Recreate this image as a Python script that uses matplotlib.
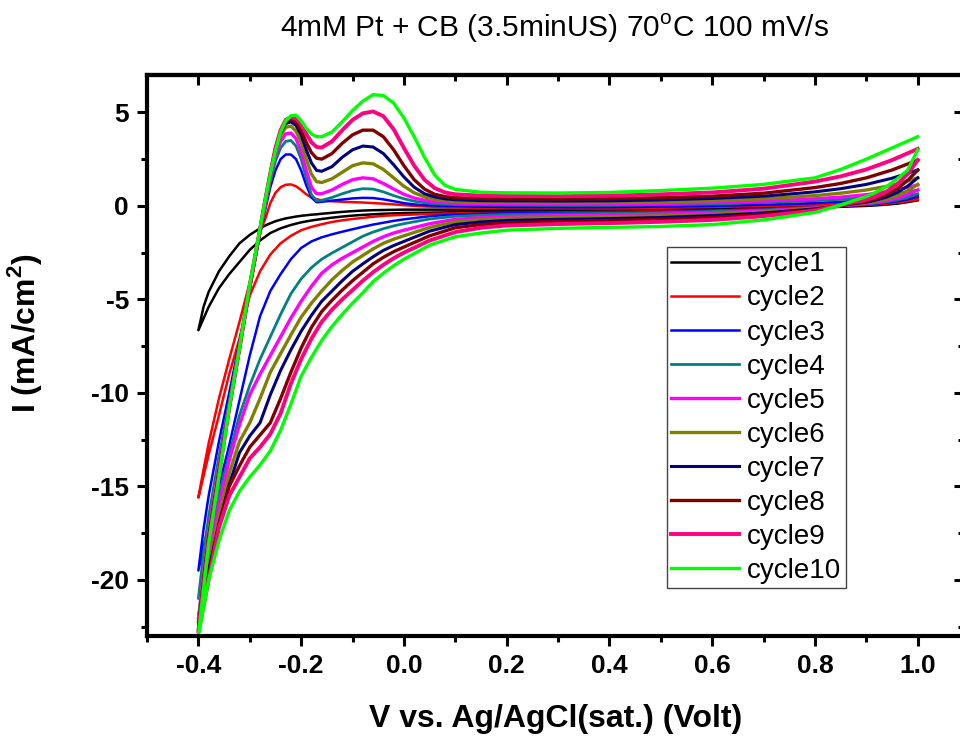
import matplotlib
matplotlib.use('Agg')
import matplotlib.pyplot as plt
from matplotlib.ticker import MultipleLocator

plt.rcParams['font.family'] = ['Liberation Sans', 'DejaVu Sans']
plt.rcParams['mathtext.fontset'] = 'custom'
plt.rcParams['mathtext.rm'] = 'Liberation Sans'
plt.rcParams['mathtext.bf'] = 'Liberation Sans:bold'

# potential grids (V): upper = anodic sweep (-0.4 -> 1.0), lower = cathodic sweep (1.0 -> -0.4)
upper_v = [-0.40, -0.39, -0.38, -0.36, -0.34, -0.32, -0.30, -0.28, -0.27, -0.26, -0.25, -0.24, -0.23,
           -0.22, -0.21, -0.20, -0.19, -0.18, -0.17, -0.16, -0.14, -0.12, -0.10, -0.08, -0.06, -0.04,
           -0.02, 0.00, 0.02, 0.04, 0.06, 0.08, 0.10, 0.15, 0.20, 0.30, 0.40, 0.50, 0.60, 0.70, 0.80,
           0.85, 0.90, 0.95, 1.00]
lower_v = [1.00, 0.98, 0.96, 0.94, 0.92, 0.90, 0.85, 0.80, 0.70, 0.60, 0.50, 0.40, 0.30, 0.20, 0.15,
           0.10, 0.05, 0.00, -0.02, -0.04, -0.06, -0.08, -0.10, -0.12, -0.14, -0.16, -0.18, -0.20,
           -0.22, -0.24, -0.26, -0.28, -0.30, -0.32, -0.34, -0.36, -0.38, -0.40]

# current density (mA/cm2)
upper_i = {
    'cycle1': [-6.65, -5.4, -4.6, -3.5, -2.7, -2.0, -1.55, -1.2, -1.05, -0.93, -0.82, -0.74, -0.67,
               -0.62, -0.57, -0.53, -0.5, -0.47, -0.45, -0.42, -0.37, -0.32, -0.28, -0.25, -0.23, -0.22,
               -0.21, -0.2, -0.2, -0.2, -0.2, -0.2, -0.2, -0.2, -0.2, -0.2, -0.19, -0.16, -0.11, -0.06,
               0.0, 0.05, 0.12, 0.22, 0.35],
    'cycle2': [-15.6, -14.1, -12.7, -10.3, -8.2, -6.2, -4.1, -1.4, -0.7, 0.15, 0.7, 1.0, 1.13,
               1.15, 1.05, 0.85, 0.62, 0.45, 0.36, 0.3, 0.25, 0.22, 0.2, 0.18, 0.15, 0.12,
               0.08, 0.04, 0.0, -0.03, -0.05, -0.07, -0.08, -0.1, -0.12, -0.13, -0.14, -0.1, -0.06, 0.0,
               0.05, 0.1, 0.18, 0.3, 0.45],
    'cycle3': [-19.5, -17.3, -15.5, -12.6, -10.0, -7.3, -4.4, -1.5, -0.2, 1.0, 1.9, 2.5, 2.75,
               2.75, 2.5, 1.9, 1.1, 0.45, 0.2, 0.22, 0.28, 0.34, 0.4, 0.43, 0.42, 0.35,
               0.25, 0.15, 0.08, 0.04, 0.02, 0.0, -0.01, -0.04, -0.06, -0.07, -0.07, -0.04, 0.0, 0.06,
               0.15, 0.22, 0.3, 0.45, 0.62],
    'cycle4': [-21.0, -18.6, -16.6, -13.4, -10.5, -7.5, -4.4, -1.4, 0.0, 1.3, 2.4, 3.1, 3.45,
               3.5, 3.2, 2.5, 1.5, 0.6, 0.28, 0.3, 0.45, 0.65, 0.82, 0.92, 0.9, 0.75,
               0.55, 0.38, 0.25, 0.17, 0.12, 0.09, 0.07, 0.05, 0.04, 0.03, 0.03, 0.06, 0.1, 0.18,
               0.28, 0.35, 0.45, 0.62, 0.85],
    'cycle5': [-22.1, -19.6, -17.3, -13.9, -10.7, -7.6, -4.4, -1.35, 0.1, 1.5, 2.7, 3.45, 3.85,
               3.9, 3.6, 2.9, 1.9, 1.0, 0.65, 0.65, 0.85, 1.15, 1.4, 1.5, 1.45, 1.2,
               0.9, 0.62, 0.42, 0.3, 0.22, 0.18, 0.15, 0.12, 0.11, 0.1, 0.1, 0.13, 0.18, 0.26,
               0.38, 0.47, 0.6, 0.8, 1.12],
    'cycle6': [-22.3, -19.8, -17.5, -14.1, -10.8, -7.6, -4.35, -1.3, 0.2, 1.6, 2.9, 3.75, 4.2,
               4.27, 4.0, 3.4, 2.5, 1.7, 1.3, 1.25, 1.45, 1.8, 2.15, 2.3, 2.25, 1.95,
               1.5, 1.05, 0.7, 0.48, 0.35, 0.28, 0.24, 0.2, 0.19, 0.18, 0.18, 0.22, 0.28, 0.38,
               0.55, 0.68, 0.85, 1.1, 1.5],
    'cycle7': [-22.5, -20.0, -17.7, -14.2, -10.8, -7.6, -4.3, -1.25, 0.25, 1.65, 3.0, 3.9, 4.4,
               4.5, 4.3, 3.8, 3.0, 2.3, 1.9, 1.85, 2.1, 2.6, 3.0, 3.2, 3.15, 2.8,
               2.2, 1.55, 1.0, 0.65, 0.48, 0.38, 0.33, 0.28, 0.27, 0.26, 0.27, 0.32, 0.4, 0.52,
               0.75, 0.92, 1.15, 1.48, 1.92],
    'cycle8': [-22.7, -20.2, -17.9, -14.3, -10.8, -7.6, -4.3, -1.25, 0.3, 1.7, 3.05, 4.0, 4.5,
               4.63, 4.5, 4.05, 3.4, 2.85, 2.55, 2.5, 2.8, 3.35, 3.8, 4.05, 4.05, 3.7,
               3.0, 2.15, 1.4, 0.9, 0.62, 0.5, 0.44, 0.39, 0.38, 0.37, 0.39, 0.44, 0.52, 0.68,
               0.98, 1.2, 1.5, 1.92, 2.45],
    'cycle9': [-22.8, -20.3, -18.0, -14.4, -10.8, -7.6, -4.25, -1.25, 0.3, 1.75, 3.1, 4.05, 4.6,
               4.75, 4.68, 4.35, 3.85, 3.4, 3.15, 3.12, 3.45, 4.05, 4.6, 4.95, 5.05, 4.8,
               4.1, 3.1, 2.15, 1.4, 0.95, 0.72, 0.62, 0.55, 0.53, 0.52, 0.55, 0.62, 0.72, 0.92,
               1.3, 1.58, 1.95, 2.45, 3.05],
    'cycle10': [-23.0, -20.5, -18.1, -14.5, -10.8, -7.6, -4.2, -1.2, 0.3, 1.7, 2.95, 3.95, 4.55,
                4.82, 4.85, 4.55, 4.15, 3.85, 3.7, 3.7, 3.95, 4.5, 5.1, 5.6, 5.95, 5.9,
                5.5, 4.7, 3.7, 2.6, 1.65, 1.1, 0.88, 0.73, 0.7, 0.69, 0.72, 0.82, 0.95, 1.15,
                1.5, 1.95, 2.5, 3.1, 3.7],
}
lower_i = {
    'cycle1': [0.3, 0.2, 0.12, 0.07, 0.03, 0.0, -0.05, -0.1, -0.15, -0.2, -0.25, -0.28, -0.3, -0.32,
               -0.33, -0.34, -0.36, -0.38, -0.4, -0.42, -0.45, -0.48, -0.52, -0.57, -0.63, -0.7, -0.78,
               -0.88, -1.02, -1.2, -1.45, -1.85, -2.35, -3.0, -3.65, -4.4, -5.4, -6.65],
    'cycle2': [0.35, 0.25, 0.18, 0.12, 0.08, 0.05, 0.0, -0.08, -0.18, -0.25, -0.3, -0.32, -0.35, -0.37,
               -0.38, -0.4, -0.43, -0.48, -0.5, -0.53, -0.58, -0.64, -0.7, -0.77, -0.86, -0.98, -1.12,
               -1.3, -1.6, -2.0, -2.6, -3.5, -4.8, -7.1, -9.0, -11.2, -13.3, -15.6],
    'cycle3': [0.5, 0.35, 0.25, 0.18, 0.12, 0.08, 0.0, -0.1, -0.2, -0.28, -0.33, -0.36, -0.38, -0.4,
               -0.42, -0.46, -0.55, -0.72, -0.8, -0.9, -1.0, -1.12, -1.25, -1.38, -1.52, -1.68, -1.9,
               -2.25, -2.85, -3.65, -4.55, -5.9, -8.0, -10.4, -12.8, -15.0, -17.0, -19.5],
    'cycle4': [0.65, 0.45, 0.32, 0.22, 0.15, 0.1, 0.02, -0.1, -0.22, -0.3, -0.36, -0.4, -0.43, -0.46,
               -0.5, -0.56, -0.7, -0.95, -1.07, -1.22, -1.4, -1.62, -1.92, -2.22, -2.52, -2.85, -3.3,
               -3.9, -4.7, -5.8, -7.0, -8.2, -9.6, -11.2, -13.3, -15.5, -18.0, -21.0],
    'cycle5': [0.85, 0.6, 0.42, 0.3, 0.2, 0.13, 0.02, -0.12, -0.27, -0.37, -0.44, -0.49, -0.52, -0.57,
               -0.63, -0.72, -0.95, -1.3, -1.45, -1.65, -1.9, -2.2, -2.5, -2.8, -3.15, -3.6, -4.3,
               -5.1, -6.0, -7.0, -8.0, -9.0, -10.1, -11.7, -13.6, -16.0, -18.8, -22.1],
    'cycle6': [1.15, 0.8, 0.55, 0.38, 0.26, 0.17, 0.02, -0.14, -0.33, -0.45, -0.53, -0.58, -0.62, -0.67,
               -0.74, -0.85, -1.15, -1.6, -1.78, -2.0, -2.3, -2.65, -3.0, -3.45, -3.95, -4.55, -5.2,
               -5.95, -6.9, -7.9, -8.9, -10.3, -11.6, -12.6, -14.3, -16.6, -19.2, -22.3],
    'cycle7': [1.5, 1.05, 0.72, 0.48, 0.32, 0.2, 0.02, -0.16, -0.38, -0.52, -0.62, -0.68, -0.72, -0.78,
               -0.86, -1.0, -1.35, -1.9, -2.12, -2.38, -2.72, -3.1, -3.5, -4.0, -4.55, -5.1, -5.85,
               -6.7, -7.7, -8.8, -10.1, -11.6, -12.3, -13.2, -14.9, -17.0, -19.5, -22.5],
    'cycle8': [1.92, 1.35, 0.92, 0.62, 0.4, 0.25, 0.02, -0.2, -0.45, -0.62, -0.72, -0.78, -0.83, -0.9,
               -1.0, -1.17, -1.6, -2.2, -2.45, -2.75, -3.1, -3.55, -4.0, -4.5, -5.05, -5.65, -6.5,
               -7.6, -8.9, -10.3, -11.6, -12.25, -12.9, -13.9, -15.0, -17.1, -19.7, -22.7],
    'cycle9': [2.45, 1.7, 1.15, 0.78, 0.52, 0.33, 0.05, -0.25, -0.55, -0.75, -0.85, -0.92, -0.97, -1.05,
               -1.17, -1.4, -1.85, -2.5, -2.8, -3.15, -3.55, -4.0, -4.5, -5.0, -5.55, -6.2, -7.1,
               -8.2, -9.5, -11.1, -12.2, -12.9, -13.5, -14.5, -15.5, -17.2, -20.0, -22.8],
    'cycle10': [3.0, 1.9, 1.45, 1.05, 0.75, 0.5, 0.05, -0.35, -0.75, -1.0, -1.1, -1.15, -1.2, -1.3,
                -1.45, -1.65, -2.1, -2.85, -3.2, -3.6, -4.05, -4.65, -5.2, -5.8, -6.45, -7.2, -8.1,
                -9.1, -10.6, -12.0, -13.1, -13.85, -14.5, -15.25, -16.3, -17.9, -20.0, -23.0],
}

cycle_names = ['cycle1', 'cycle2', 'cycle3', 'cycle4', 'cycle5',
               'cycle6', 'cycle7', 'cycle8', 'cycle9', 'cycle10']
colors = ['#000000', '#ff0000', '#0000ff', '#008080', '#ff00ff',
          '#808000', '#000080', '#800000', '#ff0080', '#00ff00']
widths = [1.8, 1.8, 1.8, 2.0, 2.4, 2.4, 2.2, 2.4, 2.8, 2.4]

fig = plt.figure(figsize=(9.6, 7.38), dpi=100)
ax = fig.add_axes([147 / 960, 102 / 738, 817 / 960, 561 / 738])

for name, c, lw in zip(cycle_names, colors, widths):
    v = lower_v + upper_v
    i = lower_i[name] + upper_i[name]
    ax.plot(v, i, color=c, lw=lw, label=name)

ax.set_xlim(-0.5, 1.09)
ax.set_ylim(-23, 7)
ax.xaxis.set_minor_locator(MultipleLocator(0.1))
ax.yaxis.set_minor_locator(MultipleLocator(2.5))
ax.set_xticks([-0.4, -0.2, 0.0, 0.2, 0.4, 0.6, 0.8, 1.0])
ax.set_xticklabels(['-0.4', '-0.2', '0.0', '0.2', '0.4', '0.6', '0.8', '1.0'])
ax.set_yticks([5, 0, -5, -10, -15, -20])
ax.set_yticklabels(['5', '0', '-5', '-10', '-15', '-20'])

for s in ax.spines.values():
    s.set_linewidth(3.0)
ax.tick_params(which='both', direction='out', width=2.2, labelsize=19, pad=6)
ax.tick_params(which='major', length=7)
ax.tick_params(which='minor', length=4.5)
for lab in ax.get_xticklabels() + ax.get_yticklabels():
    lab.set_fontweight('bold')

# mirrored ticks on top/right pointing inward
top = ax.secondary_xaxis('top')
top.set_xticks([-0.4, -0.2, 0.0, 0.2, 0.4, 0.6, 0.8, 1.0])
top.xaxis.set_minor_locator(MultipleLocator(0.1))
top.tick_params(which='both', direction='in', width=2.2, labeltop=False)
top.tick_params(which='major', length=7)
top.tick_params(which='minor', length=4.5)
top.spines['top'].set_linewidth(3.0)
right = ax.secondary_yaxis('right')
right.set_yticks([5, 0, -5, -10, -15, -20])
right.yaxis.set_minor_locator(MultipleLocator(2.5))
right.tick_params(which='both', direction='in', width=2.2, labelright=False)
right.tick_params(which='major', length=7)
right.tick_params(which='minor', length=4.5)

ax.set_xlabel('V vs. Ag/AgCl(sat.) (Volt)', fontsize=23, fontweight='bold')
ax.xaxis.set_label_coords(0.5, -0.122)
ax.set_ylabel(r'I (mA/cm$^\mathbf{2}$)', fontsize=23, fontweight='bold')
ax.yaxis.set_label_coords(-0.126, 0.54)

fig.text(555 / 960, 1 - 28 / 738, r'4mM Pt + CB (3.5minUS) 70$^\mathrm{o}$C 100 mV/s',
         ha='center', va='center', fontsize=21.5)

leg = ax.legend(loc='upper left', bbox_to_anchor=(0.636, 0.693), fontsize=20,
                frameon=True, fancybox=False, edgecolor='#444444', framealpha=1,
                handlelength=2.45, handletextpad=0.3, labelspacing=0.29,
                borderpad=0.15, borderaxespad=0)
leg.get_frame().set_linewidth(1.0)

fig.savefig('out.png', dpi=100)
